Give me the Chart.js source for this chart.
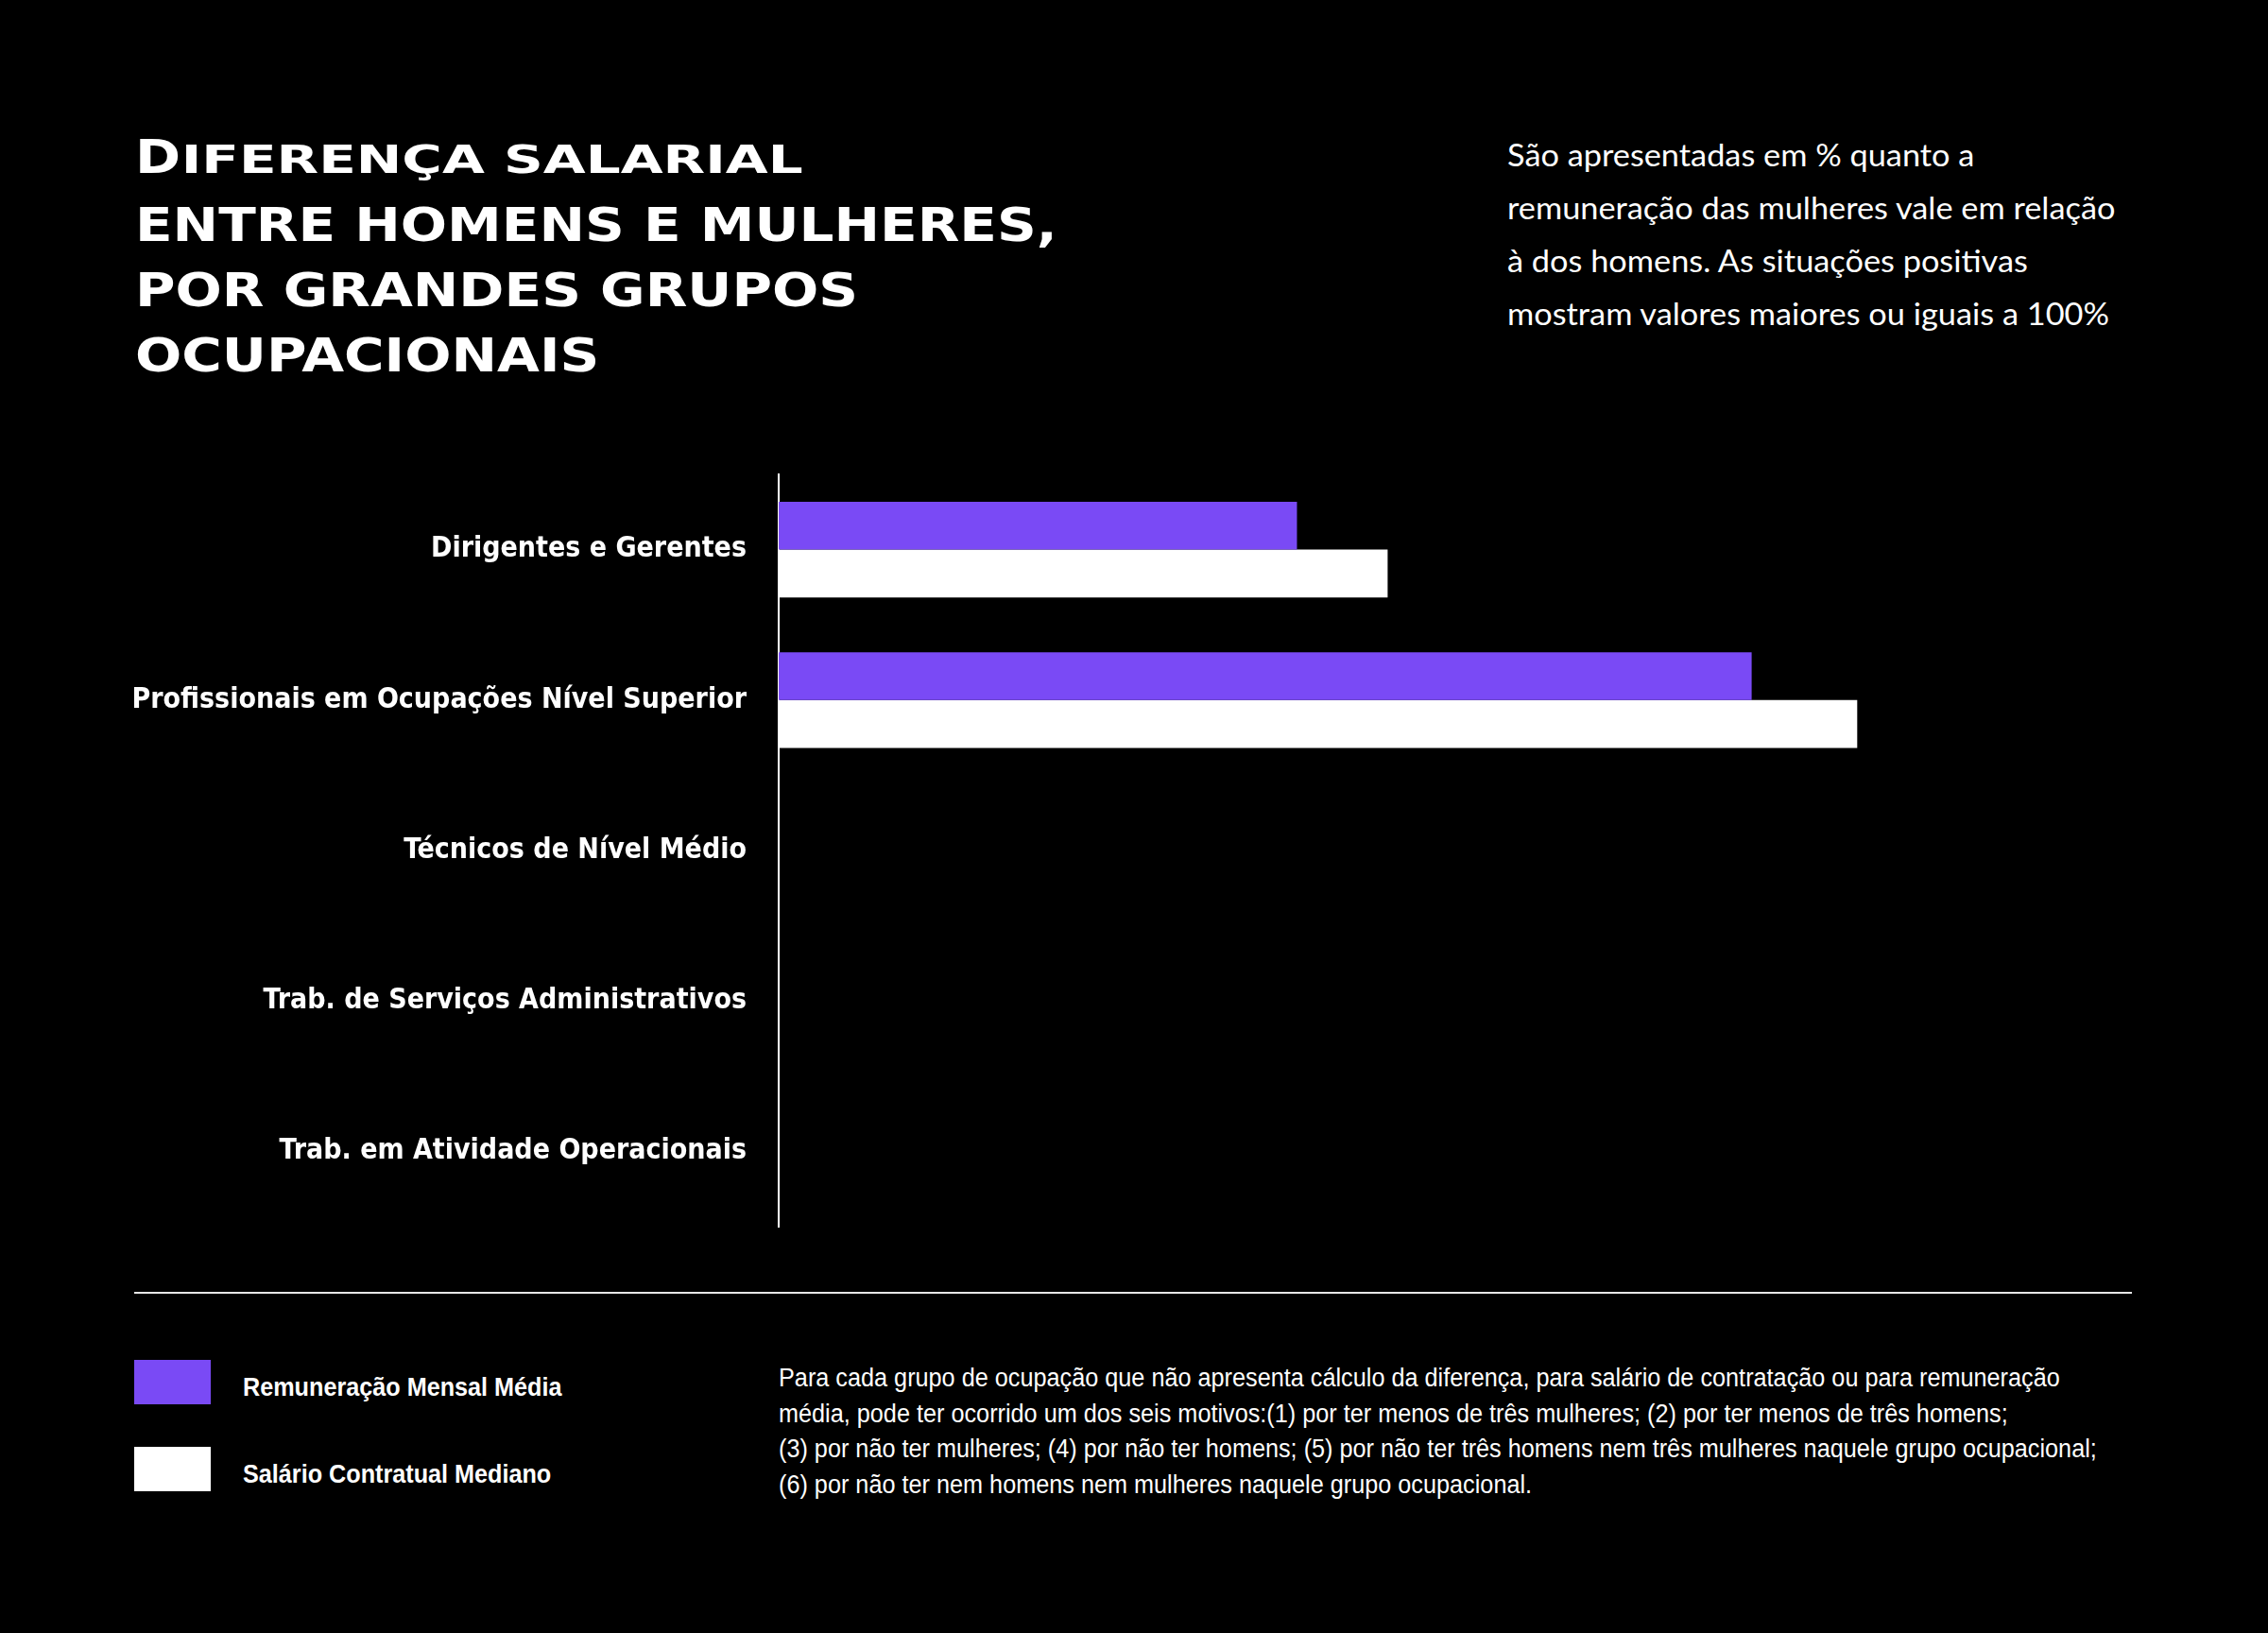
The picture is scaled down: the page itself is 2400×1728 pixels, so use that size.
<!DOCTYPE html>
<html lang="pt-BR">
<head>
<meta charset="utf-8">
<script src="https://cdn.jsdelivr.net/npm/chart.js@4.4.1/dist/chart.umd.min.js"></script>
<style>
    body { margin: 0; width: 2400px; height: 1728px; background: #000; color: #fff; position: relative; overflow: hidden; }
    .titulo { position: absolute; left: 143px; top: 132px; font-family: 'DejaVu Sans', sans-serif; font-weight: bold; font-size: 50px; line-height: 69px; transform: scaleX(1.16); transform-origin: left top; white-space: nowrap; }
    .titulo .pequeno { display: inline-block; font-size: 0.8em; transform: scaleX(1.25); transform-origin: left bottom; }
    .subtitulo { position: absolute; left: 1595px; top: 135px; font-family: Lato, sans-serif; font-weight: 400; font-size: 33px; line-height: 56px; white-space: nowrap; transform: scaleX(1.04); transform-origin: left top; }
    .divisor { position: absolute; left: 142px; top: 1367px; width: 2114px; height: 2px; background: #e6e6e6; }
    .grafico { position: absolute; left: 0; top: 450px; width: 2400px; height: 900px; }
    .legenda { position: absolute; left: 142px; top: 1439px; font-family: 'Liberation Sans', sans-serif; font-weight: bold; font-size: 28px; }
    .legenda .item { display: flex; align-items: center; height: 47px; margin-bottom: 45px; }
    .legenda .caixa { width: 81px; height: 47px; margin-right: 34px; }
    .legenda .texto { padding-top: 10px; transform: scaleX(0.9); transform-origin: left center; white-space: nowrap; }
    .nota { position: absolute; left: 824px; top: 1440px; font-family: 'Liberation Sans', sans-serif; font-size: 27px; line-height: 37.5px; white-space: nowrap; transform: scaleX(0.935); transform-origin: left top; }
</style>
</head>
<body>
<div class="titulo">D<span class="pequeno">IFERENÇA SALARIAL</span><br>ENTRE HOMENS E MULHERES,<br>POR GRANDES GRUPOS<br>OCUPACIONAIS</div>
<div class="subtitulo">São apresentadas em % quanto a<br>remuneração das mulheres vale em relação<br>à dos homens. As situações positivas<br>mostram valores maiores ou iguais a 100%</div>
<div class="grafico"><canvas id="grafico"></canvas></div>
<div class="divisor"></div>
<div class="legenda" id="legenda"></div>
<div class="nota">Para cada grupo de ocupação que não apresenta cálculo da diferença, para salário de contratação ou para remuneração<br>média, pode ter ocorrido um dos seis motivos:(1) por ter menos de três mulheres; (2) por ter menos de três homens;<br>(3) por não ter mulheres; (4) por não ter homens; (5) por não ter três homens nem três mulheres naquele grupo ocupacional;<br>(6) por não ter nem homens nem mulheres naquele grupo ocupacional.</div>
<script>
const categorias = [
    'Dirigentes e Gerentes',
    'Profissionais em Ocupações Nível Superior',
    'Técnicos de Nível Médio',
    'Trab. de Serviços Administrativos',
    'Trab. em Atividade Operacionais'
];
const remuneracaoMedia = [38.3, 71.9, null, null, null];
const salarioMediano = [45.0, 79.7, null, null, null];
const nomesSeries = ['Remuneração Mensal Média', 'Salário Contratual Mediano'];
const coresSeries = ['#7a4af5', '#ffffff'];
const escalaMax = 100;

document.addEventListener('DOMContentLoaded', () => {
    // legenda montada a partir das séries
    const legenda = document.getElementById('legenda');
    nomesSeries.forEach((nome, i) => {
        const item = document.createElement('div');
        item.className = 'item';
        item.innerHTML = `<div class="caixa" style="background:${coresSeries[i]}"></div><div class="texto">${nome}</div>`;
        legenda.appendChild(item);
    });

    const ctx = document.getElementById('grafico').getContext('2d');
    new Chart(ctx, {
        type: 'bar',
        data: {
            labels: categorias,
            datasets: [{
                label: nomesSeries[0],
                data: remuneracaoMedia,
                backgroundColor: coresSeries[0],
                borderWidth: 0,
                barPercentage: 1,
                categoryPercentage: 0.636
            }, {
                label: nomesSeries[1],
                data: salarioMediano,
                backgroundColor: coresSeries[1],
                borderWidth: 0,
                barPercentage: 1,
                categoryPercentage: 0.636
            }]
        },
        options: {
            indexAxis: 'y',
            responsive: true,
            maintainAspectRatio: false,
            animation: false,
            layout: {
                padding: { top: 50, bottom: 48, left: 0, right: 144 }
            },
            scales: {
                x: {
                    display: false,
                    min: 0,
                    max: escalaMax
                },
                y: {
                    grid: { display: false, drawTicks: false },
                    border: { display: true, color: '#ffffff', width: 2 },
                    ticks: {
                        color: '#ffffff',
                        padding: 34,
                        font: { family: "'DejaVu Sans Condensed', 'Liberation Sans', sans-serif", size: 30, weight: 'bold' }
                    },
                    afterFit: function(scale) {
                        scale.width = 824;
                    }
                }
            },
            plugins: {
                legend: { display: false },
                tooltip: { enabled: false }
            }
        }
    });
});
</script>
</body>
</html>
